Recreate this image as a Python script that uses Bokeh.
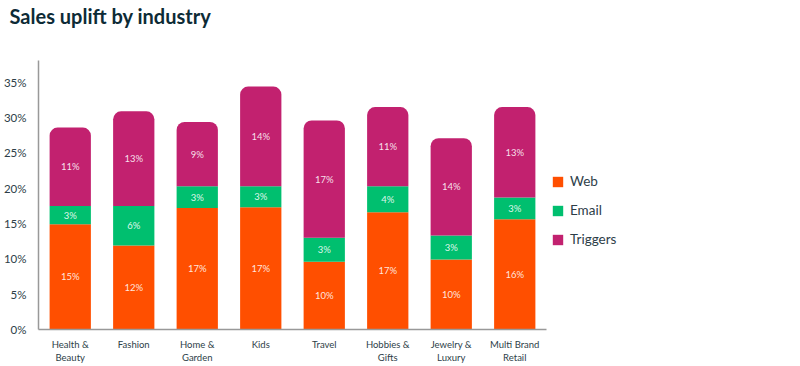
from bokeh.plotting import figure
from bokeh.models import ColumnDataSource, FixedTicker, PrintfTickFormatter, Legend, LegendItem, Range1d, FactorRange, Title
from bokeh.embed import file_html
from bokeh.resources import INLINE
from bokeh.core.properties import value

industries = ["Health &\nBeauty", "Fashion", "Home &\nGarden", "Kids", "Travel",
              "Hobbies &\nGifts", "Jewelry &\nLuxury", "Multi Brand\nRetail"]
web = [14.9, 11.9, 17.2, 17.3, 9.6, 16.6, 9.9, 15.6]
email = [2.6, 5.6, 3.1, 3.0, 3.4, 3.7, 3.4, 3.1]
triggers = [11.1, 13.4, 9.1, 14.1, 16.6, 11.2, 13.8, 12.8]
series_names = ["Web", "Email", "Triggers"]
colors = ["#FF4F00", "#00BF6F", "#C2216F"]
y_ticks = [0, 5, 10, 15, 20, 25, 30, 35]
title_text = "Sales uplift by industry"

FONT = "Lato"

p = figure(x_range=FactorRange(*industries, range_padding=0), y_range=Range1d(0, 38.1),
           frame_width=508, frame_height=269, output_backend="svg",
           toolbar_location=None, title=None,
           min_border_left=29, min_border_right=247, min_border_bottom=36, min_border_top=0)

# spacer between title and plot frame
p.add_layout(Title(text=" ", text_font_size="1px", standoff=29), "above")
p.add_layout(Title(text=title_text, text_font=FONT, text_font_size="20px",
                   text_font_style="bold", text_color="#0D2B36", align="left",
                   offset=-29, standoff=2), "above")

bottoms_web = [0] * len(industries)
tops_web = [b + v for b, v in zip(bottoms_web, web)]
tops_email = [b + v for b, v in zip(tops_web, email)]
tops_trig = [b + v for b, v in zip(tops_email, triggers)]

segments = [
    (bottoms_web, tops_web, web),
    (tops_web, tops_email, email),
    (tops_email, tops_trig, triggers),
]

renderers = []
for i, (bot, top, vals) in enumerate(segments):
    src = ColumnDataSource(dict(
        x=industries, bottom=bot, top=top,
        mid=[(b + t) / 2 for b, t in zip(bot, top)],
        label=[f"{v:.0f}%" for v in vals],
    ))
    kw = {}
    if i == 2:
        kw["border_radius"] = (8, 8, 0, 0)
    r = p.vbar(x="x", bottom="bottom", top="top", width=0.65, source=src,
               fill_color=colors[i], line_color=None, **kw)
    renderers.append(r)
    p.text(x="x", y="mid", text="label", source=src, text_align="center",
           text_baseline="middle", text_color="white", text_alpha=0.88,
           text_font=value(FONT), text_font_size="9.5px")

legend = Legend(items=[LegendItem(label=series_names[i], renderers=[renderers[i]]) for i in [0, 1, 2]],
                location=(5, 82), border_line_color=None,
                label_text_font=FONT, label_text_font_size="13.5px", label_text_color="#2D3E48",
                glyph_width=13, glyph_height=13, spacing=13, label_standoff=6,
                margin=0, padding=8, background_fill_alpha=0)
p.add_layout(legend, "right")

p.xgrid.grid_line_color = None
p.ygrid.grid_line_color = None
p.outline_line_color = None

p.yaxis.ticker = FixedTicker(ticks=y_ticks)
p.yaxis.formatter = PrintfTickFormatter(format="%d%%")
p.yaxis.major_tick_line_color = None
p.yaxis.minor_tick_line_color = None
p.yaxis.axis_line_color = "#999999"
p.yaxis.axis_line_width = 1.5
p.yaxis.major_label_text_font = FONT
p.yaxis.major_label_text_font_size = "11.5px"
p.yaxis.major_label_text_color = "#2D3E48"
p.yaxis.major_label_standoff = 6

p.xaxis.major_tick_line_color = None
p.xaxis.minor_tick_line_color = None
p.xaxis.axis_line_color = "#999999"
p.xaxis.axis_line_width = 1.5
p.xaxis.major_label_text_font = FONT
p.xaxis.major_label_text_font_size = "9.5px"
p.xaxis.major_label_text_color = "#2D3E48"
p.xaxis.major_label_standoff = 3

open("out.html", "w").write(file_html(p, INLINE))
